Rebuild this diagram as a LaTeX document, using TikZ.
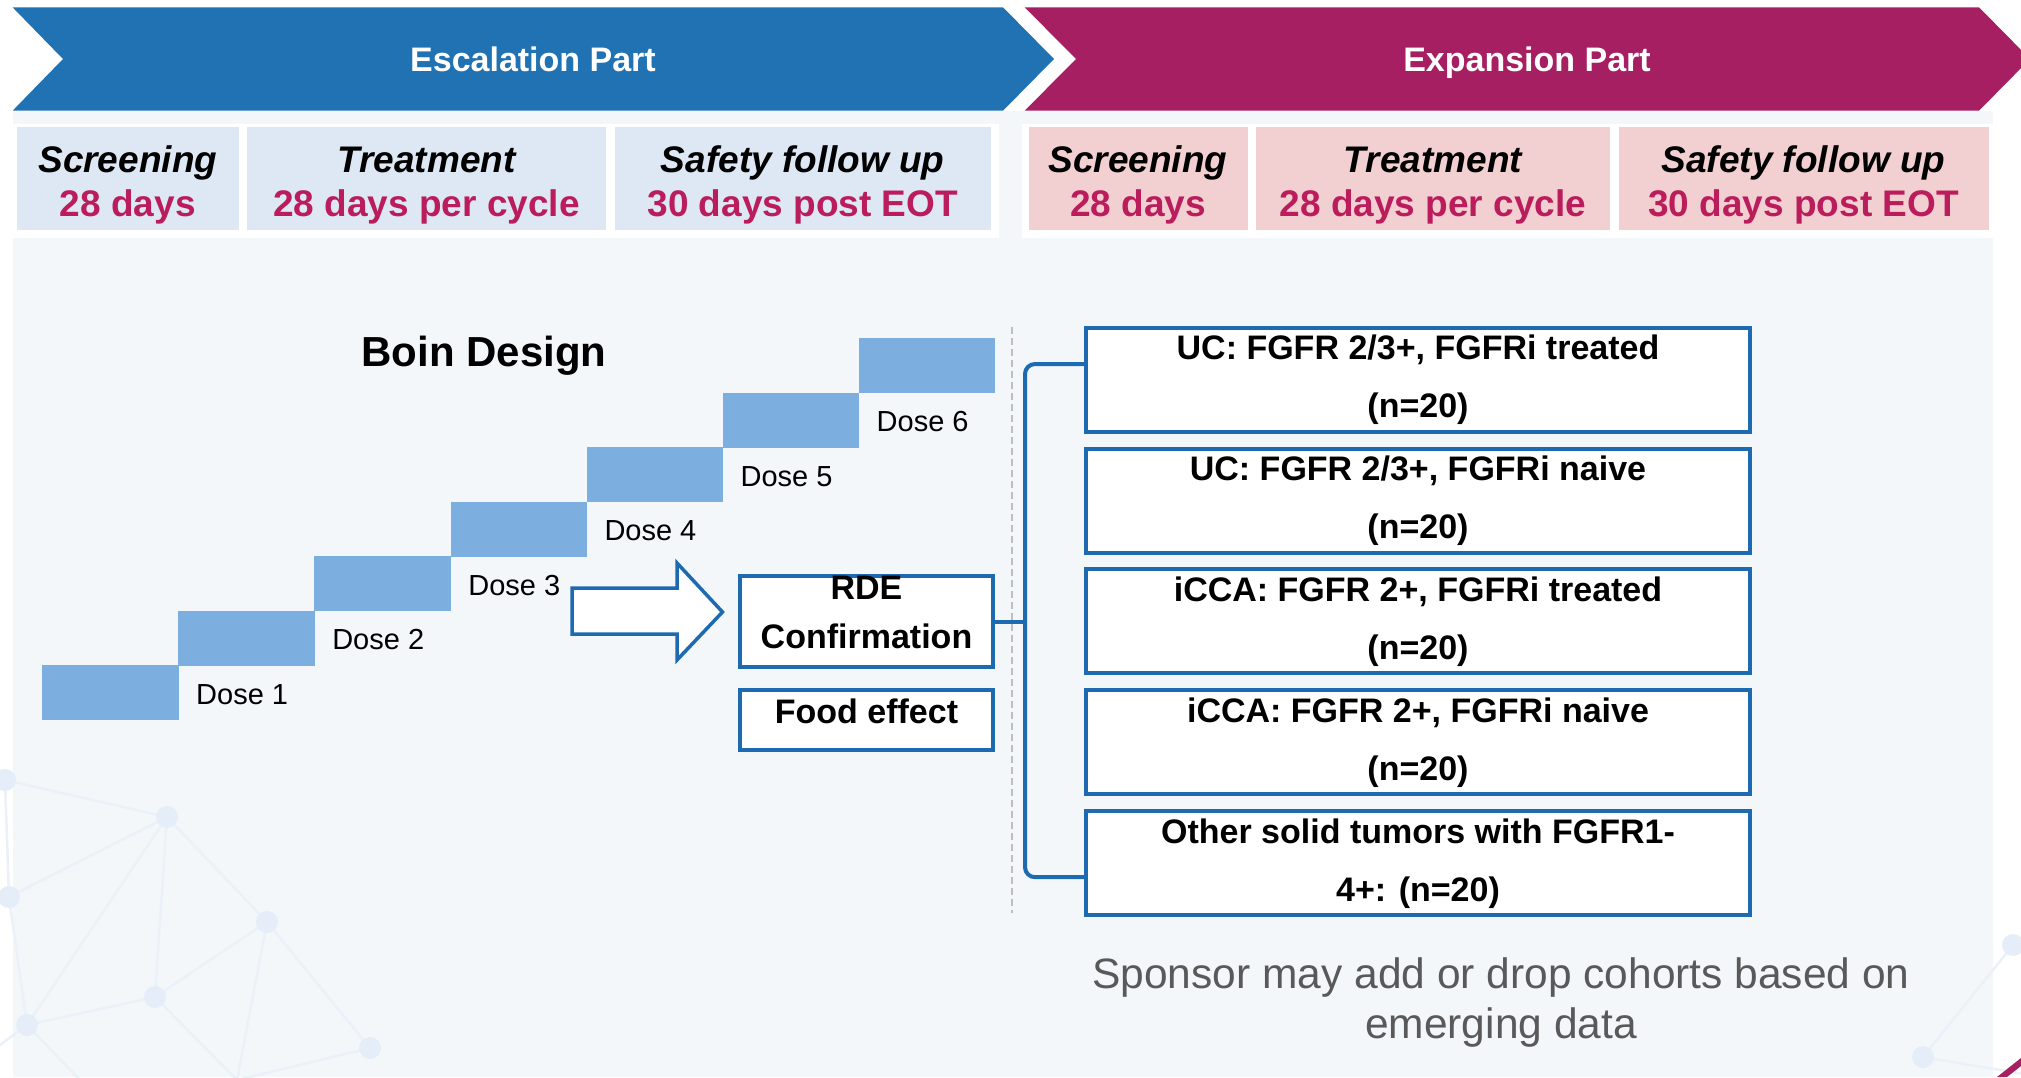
\documentclass[tikz,border=0pt]{standalone}
\usepackage{fontspec}
\setmainfont{Liberation Sans}
\usetikzlibrary{calc}
\definecolor{escblue}{RGB}{33,114,179}
\definecolor{expmag}{RGB}{166,31,98}
\definecolor{panelbg}{RGB}{243,247,250}
\definecolor{lblue}{RGB}{221,232,244}
\definecolor{lpink}{RGB}{242,208,210}
\definecolor{durred}{RGB}{186,28,92}
\definecolor{stepblue}{RGB}{124,175,224}
\definecolor{boxblue}{RGB}{30,106,176}
\definecolor{netline}{RGB}{235,241,248}
\definecolor{netdot}{RGB}{228,237,248}
\definecolor{notegray}{RGB}{89,89,89}
\definecolor{dashgray}{RGB}{190,190,190}
\begin{document}
\begin{tikzpicture}[x=1pt,y=-1pt,
  hdrtext/.style={text=white, font=\fontsize{34}{40}\selectfont\bfseries, anchor=base, inner sep=0},
  phase/.style={font=\fontsize{37}{41}\selectfont\bfseries\itshape, anchor=base, inner sep=0},
  dur/.style={font=\fontsize{37}{41}\selectfont\bfseries, text=durred, anchor=base, inner sep=0},
  stepbox/.style={fill=stepblue, draw=none, minimum width=136.6pt, minimum height=55pt, inner sep=0},
  doselbl/.style={font=\fontsize{29}{34}\selectfont, anchor=base west, inner sep=0},
  outbox/.style={draw=boxblue, line width=4pt, fill=white, inner sep=0},
  cohort/.style={outbox, minimum width=664pt, minimum height=104pt, align=center, font=\fontsize{34}{58}\selectfont\bfseries},
  boxtext/.style={font=\fontsize{34}{49}\selectfont\bfseries, anchor=base, inner sep=0},
  brk/.style={draw=boxblue, line width=4pt, rounded corners=10pt},
  netl/.style={draw=netline, line width=2.5pt},
  netd/.style={fill=netdot},
  notetext/.style={font=\fontsize{42.5}{51}\selectfont, text=notegray, anchor=base, inner sep=0}
]
\useasboundingbox (0,0) rectangle (2021,1077);
\clip (0,0) rectangle (2021,1077);
\fill[white] (0,0) rectangle (2021,1077);

% header chevrons
\fill[escblue] (12.6,7.3) -- (1003,7.3) -- (1054,59) -- (1003,110.7) -- (12.6,110.7) -- (63,59) -- cycle;
\fill[expmag] (1024.7,7.3) -- (1979,7.3) -- (2030,59) -- (1979,110.7) -- (1024.7,110.7) -- (1076,59) -- cycle;
\node[hdrtext] (esc) at (533,71) {Escalation Part};
\node[hdrtext] (exp) at (1527,71) {Expansion Part};

% panel
\fill[panelbg] (12.6,110.7) rectangle (1993,1077);

% faint network watermark
\coordinate (p1) at (5,780);
\coordinate (p2) at (167,817);
\coordinate (p3) at (9,897);
\coordinate (p4) at (267,922);
\coordinate (p5) at (155,997);
\coordinate (p6) at (27,1025);
\coordinate (p7) at (370,1048);
\coordinate (p8) at (237,1080);
\coordinate (p9) at (-20,1060);
\coordinate (q1) at (2013,945);
\coordinate (q2) at (1923,1057);
\coordinate (q3) at (2030,1075);
\draw[netl] (p1) -- (p2) -- (p3) -- (p6) -- (p2) -- (p5) -- (p6);
\draw[netl] (p2) -- (p4) -- (p5) -- (p8) -- (p4) -- (p7) -- (p8);
\draw[netl] (p1) -- (p3);
\draw[netl] (p6) -- (p9);
\draw[netl] (p6) -- (80,1080);
\draw[netl] (q1) -- (q2) -- (q3);
\foreach \p in {p1,p2,p3,p4,p5,p6,p7,q1,q2}{\fill[netd] (\p) circle (11);}

% sub-header strips
\fill[white] (12.6,124) rectangle (999,238);
\fill[white] (1021.5,124) rectangle (1993,238);
\fill[lblue] (17,127) rectangle (238.5,230);
\fill[lblue] (247,127) rectangle (606,230);
\fill[lblue] (615,127) rectangle (990.5,230);
\fill[lpink] (1029,127) rectangle (1247.5,230);
\fill[lpink] (1256,127) rectangle (1610,230);
\fill[lpink] (1618.6,127) rectangle (1988.5,230);

\node[phase] (ph1) at (127.8,172) {Screening};
\node[dur]   (du1) at (127.8,216) {28 days};
\node[phase] (ph2) at (426.5,172) {Treatment};
\node[dur]   (du2) at (426.5,216) {28 days per cycle};
\node[phase] (ph3) at (802.7,172) {Safety follow up};
\node[dur]   (du3) at (802.7,216) {30 days post EOT};
\node[phase] (ph4) at (1138,172) {Screening};
\node[dur]   (du4) at (1138,216) {28 days};
\node[phase] (ph5) at (1433,172) {Treatment};
\node[dur]   (du5) at (1433,216) {28 days per cycle};
\node[phase] (ph6) at (1803.5,172) {Safety follow up};
\node[dur]   (du6) at (1803.5,216) {30 days post EOT};

% Boin design title
\node[font=\fontsize{42}{50}\selectfont\bfseries, anchor=base, inner sep=0] (boin) at (484,366) {Boin Design};

% dose steps
\foreach \k in {1,...,7}{
  \node[stepbox] (s\k) at ({110.5+136.1*(\k-1)},{692.5-54.5*(\k-1)}) {};
}
\foreach \k in {1,...,6}{
  \node[doselbl] (d\k) at ({196+136.1*(\k-1)},{704-54.5*(\k-1)}) {Dose \k};
}

% dashed divider
\coordinate (dtop) at (1012,327);
\coordinate (dbot) at (1012,913);
\draw[dashgray, line width=1.3pt, dash pattern=on 7pt off 4pt] (dtop) -- (dbot);

% big outline arrow
\draw[boxblue, line width=3.5pt, fill=white, line join=miter]
  (572,588) -- (677,588) -- (677,563) -- (722.5,612) -- (677,660) -- (677,634) -- (572,634) -- cycle;

% RDE and food boxes
\node[outbox, minimum width=253pt, minimum height=91pt] (rde) at (866.5,621.5) {};
\node[boxtext] (rdet) at (866.5,599) {RDE};
\node[boxtext] (conf) at (866.5,648) {Confirmation};
\node[outbox, minimum width=253pt, minimum height=60pt] (food) at (866.5,720) {};
\node[boxtext] (foodt) at (866.5,723) {Food effect};

% cohort boxes
\node[cohort] (c1) at (1418,379.6) {UC: FGFR 2/3+, FGFRi treated\\(n=20)};
\node[cohort] (c2) at (1418,500.5) {UC: FGFR 2/3+, FGFRi naive\\(n=20)};
\node[cohort] (c3) at (1418,621.4) {iCCA: FGFR 2+, FGFRi treated\\(n=20)};
\node[cohort] (c4) at (1418,742.3) {iCCA: FGFR 2+, FGFRi naive\\(n=20)};
\node[cohort] (c5) at (1418,863.2) {Other solid tumors with FGFR1-\\4+: (n=20)};

% bracket
\coordinate (bx) at (1025,621.5);
\draw[brk] ([yshift=15.6pt]c1.west) -| (bx) |- ([yshift=-14pt]c5.west);
\draw[brk] (rde.east) -- (bx);

% note
\node[notetext] (note1) at (1501,988) {Sponsor may add or drop cohorts based on};
\node[notetext] (note2) at (1501,1038) {emerging data};

% corner accent
\fill[expmag] (1997,1077) -- (2021,1058) -- (2021,1066) -- (2007,1077) -- cycle;
\end{tikzpicture}
\end{document}
